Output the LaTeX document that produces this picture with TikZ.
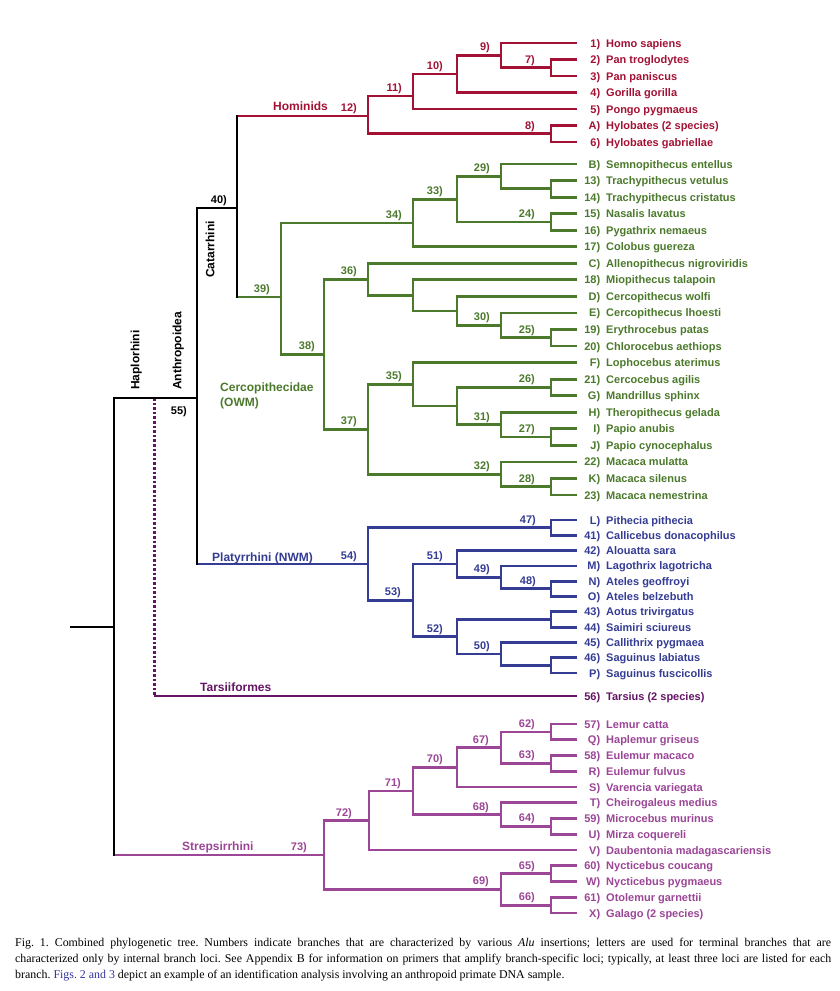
\documentclass[tikz,border=0pt]{standalone}
\usepackage{fontspec}
\setmainfont{Liberation Sans}
\newfontfamily\capfont{Liberation Serif}
\definecolor{hom}{RGB}{163,18,52}
\definecolor{owm}{RGB}{76,122,44}
\definecolor{nwm}{RGB}{52,60,148}
\definecolor{tars}{RGB}{100,20,100}
\definecolor{strep}{RGB}{155,70,150}
\definecolor{capblue}{RGB}{51,51,160}
\tikzset{
 br/.style={line width=2.8pt},
 nlab/.style={font=\fontsize{11}{13}\selectfont\bfseries, inner sep=0pt, anchor=base east},
 leaflab/.style={font=\fontsize{11}{13}\selectfont\bfseries, inner sep=0pt, anchor=base west},
 clade/.style={font=\fontsize{12}{15}\selectfont\bfseries, inner sep=0pt},
 dotbr/.style={line width=3pt, dash pattern=on 2.6pt off 2pt},
}
\newcommand\Lf[5]{%
 \coordinate (#1) at (577,#2);
 \node[leaflab,text=#5] (#1t) at ([xshift=1pt,yshift=-4pt]#1) {\makebox[22pt][r]{#3}\hspace{6pt}#4};}
\newcommand\Nl[4]{%
 \node[nlab,text=#4] (#1l) at ([xshift=-#2pt,yshift=4.5pt]#1) {#3};}
\newcommand\Br[4]{%
 \draw[br,#1] (#3) -| (#2) |- (#4);}
\begin{document}
\begin{tikzpicture}[x=1pt,y=-1pt]
\useasboundingbox (0,0) rectangle (840,991);
\fill[white] (0,0) rectangle (840,991);
% ---------------- leaves
\Lf{h1}{43}{1)}{Homo sapiens}{hom}
\Lf{h2}{59.5}{2)}{Pan troglodytes}{hom}
\Lf{h3}{76}{3)}{Pan paniscus}{hom}
\Lf{h4}{92.5}{4)}{Gorilla gorilla}{hom}
\Lf{h5}{109}{5)}{Pongo pygmaeus}{hom}
\Lf{hA}{125.5}{A)}{Hylobates (2 species)}{hom}
\Lf{h6}{142}{6)}{Hylobates gabriellae}{hom}
\Lf{oB}{164}{B)}{Semnopithecus entellus}{owm}
\Lf{o13}{180.5}{13)}{Trachypithecus vetulus}{owm}
\Lf{o14}{197.1}{14)}{Trachypithecus cristatus}{owm}
\Lf{o15}{213.6}{15)}{Nasalis lavatus}{owm}
\Lf{o16}{230.2}{16)}{Pygathrix nemaeus}{owm}
\Lf{o17}{246.7}{17)}{Colobus guereza}{owm}
\Lf{oC}{263.3}{C)}{Allenopithecus nigroviridis}{owm}
\Lf{o18}{279.8}{18)}{Miopithecus talapoin}{owm}
\Lf{oD}{296.4}{D)}{Cercopithecus wolfi}{owm}
\Lf{oE}{312.9}{E)}{Cercopithecus lhoesti}{owm}
\Lf{o19}{329.5}{19)}{Erythrocebus patas}{owm}
\Lf{o20}{346}{20)}{Chlorocebus aethiops}{owm}
\Lf{oF}{362.6}{F)}{Lophocebus aterimus}{owm}
\Lf{o21}{379.1}{21)}{Cercocebus agilis}{owm}
\Lf{oG}{395.7}{G)}{Mandrillus sphinx}{owm}
\Lf{oH}{412.2}{H)}{Theropithecus gelada}{owm}
\Lf{oI}{428.8}{I)}{Papio anubis}{owm}
\Lf{oJ}{445.3}{J)}{Papio cynocephalus}{owm}
\Lf{o22}{461.9}{22)}{Macaca mulatta}{owm}
\Lf{oK}{478.4}{K)}{Macaca silenus}{owm}
\Lf{o23}{495}{23)}{Macaca nemestrina}{owm}
\Lf{wL}{520}{L)}{Pithecia pithecia}{nwm}
\Lf{w41}{535.3}{41)}{Callicebus donacophilus}{nwm}
\Lf{w42}{550.6}{42)}{Alouatta sara}{nwm}
\Lf{wM}{565.9}{M)}{Lagothrix lagotricha}{nwm}
\Lf{wN}{581.2}{N)}{Ateles geoffroyi}{nwm}
\Lf{wO}{596.5}{O)}{Ateles belzebuth}{nwm}
\Lf{w43}{611.8}{43)}{Aotus trivirgatus}{nwm}
\Lf{w44}{627.1}{44)}{Saimiri sciureus}{nwm}
\Lf{w45}{642.4}{45)}{Callithrix pygmaea}{nwm}
\Lf{w46}{657.7}{46)}{Saguinus labiatus}{nwm}
\Lf{wP}{673}{P)}{Saguinus fuscicollis}{nwm}
\Lf{t56}{696}{56)}{Tarsius (2 species)}{tars}
\Lf{s57}{724}{57)}{Lemur catta}{strep}
\Lf{sQ}{739.75}{Q)}{Haplemur griseus}{strep}
\Lf{s58}{755.5}{58)}{Eulemur macaco}{strep}
\Lf{sR}{771.25}{R)}{Eulemur fulvus}{strep}
\Lf{sS}{787}{S)}{Varencia variegata}{strep}
\Lf{sT}{802.75}{T)}{Cheirogaleus medius}{strep}
\Lf{s59}{818.5}{59)}{Microcebus murinus}{strep}
\Lf{sU}{834.25}{U)}{Mirza coquereli}{strep}
\Lf{sV}{850}{V)}{Daubentonia madagascariensis}{strep}
\Lf{s60}{865.75}{60)}{Nycticebus coucang}{strep}
\Lf{sW}{881.5}{W)}{Nycticebus pygmaeus}{strep}
\Lf{s61}{897.25}{61)}{Otolemur garnettii}{strep}
\Lf{sX}{913}{X)}{Galago (2 species)}{strep}
% ---------------- internal nodes
\coordinate (n7) at (551,67.75);
\coordinate (n9) at (501,55.4);
\coordinate (n10) at (457,74);
\coordinate (n11) at (413,96);
\coordinate (n8) at (551,133.75);
\coordinate (n12) at (368,116);
\coordinate (a1314) at (551,188.8);
\coordinate (n29) at (501,176.4);
\coordinate (n24) at (551,221.9);
\coordinate (n33) at (457,199.2);
\coordinate (n34) at (413,223);
\coordinate (n25) at (551,337.75);
\coordinate (n30) at (501,325.3);
\coordinate (aD) at (457,310.9);
\coordinate (a18) at (413,295.3);
\coordinate (n36) at (368,279.3);
\coordinate (n26) at (551,387.4);
\coordinate (n27) at (551,437);
\coordinate (n31) at (501,424.6);
\coordinate (a2631) at (457,406);
\coordinate (n35) at (413,384.3);
\coordinate (n28) at (551,486.7);
\coordinate (n32) at (501,474.3);
\coordinate (n37) at (368,429.3);
\coordinate (n38) at (324,354.3);
\coordinate (n39) at (281,297);
\coordinate (n40) at (237,208);
\coordinate (n47) at (551,527.65);
\coordinate (n48) at (551,588.85);
\coordinate (n49) at (501,577.4);
\coordinate (n51) at (457,564);
\coordinate (b4344) at (551,619.45);
\coordinate (b46P) at (551,665.35);
\coordinate (n50) at (501,653.9);
\coordinate (n52) at (457,636.7);
\coordinate (n53) at (413,600.3);
\coordinate (n54) at (368,564);
\coordinate (n55) at (197,398);
\coordinate (tj) at (154,398);
\coordinate (n62) at (551,731.9);
\coordinate (n63) at (551,763.4);
\coordinate (n67) at (501,747.6);
\coordinate (n70) at (457,767.3);
\coordinate (n64) at (551,826.4);
\coordinate (n68) at (501,814.6);
\coordinate (n71) at (413,790.9);
\coordinate (n72) at (369,820.5);
\coordinate (n65) at (551,873.6);
\coordinate (n66) at (551,905.1);
\coordinate (n69) at (501,889.4);
\coordinate (n73) at (324,854.9);
\coordinate (nH) at (114,627);
\coordinate (root) at (70,627);
% ---------------- branches
\Br{hom}{n7}{h2}{h3}
\Br{hom}{n9}{h1}{n7}
\Br{hom}{n10}{n9}{h4}
\Br{hom}{n11}{n10}{h5}
\Br{hom}{n8}{hA}{h6}
\Br{hom}{n12}{n11}{n8}
\Br{owm}{a1314}{o13}{o14}
\Br{owm}{n29}{oB}{a1314}
\Br{owm}{n24}{o15}{o16}
\Br{owm}{n33}{n29}{n24}
\Br{owm}{n34}{n33}{o17}
\Br{owm}{n25}{o19}{o20}
\Br{owm}{n30}{oE}{n25}
\Br{owm}{aD}{oD}{n30}
\Br{owm}{a18}{o18}{aD}
\Br{owm}{n36}{oC}{a18}
\Br{owm}{n26}{o21}{oG}
\Br{owm}{n27}{oI}{oJ}
\Br{owm}{n31}{oH}{n27}
\Br{owm}{a2631}{n26}{n31}
\Br{owm}{n35}{oF}{a2631}
\Br{owm}{n28}{oK}{o23}
\Br{owm}{n32}{o22}{n28}
\Br{owm}{n37}{n35}{n32}
\Br{owm}{n38}{n36}{n37}
\Br{owm}{n39}{n34}{n38}
\Br{nwm}{n47}{wL}{w41}
\Br{nwm}{n48}{wN}{wO}
\Br{nwm}{n49}{wM}{n48}
\Br{nwm}{n51}{w42}{n49}
\Br{nwm}{b4344}{w43}{w44}
\Br{nwm}{b46P}{w46}{wP}
\Br{nwm}{n50}{w45}{b46P}
\Br{nwm}{n52}{b4344}{n50}
\Br{nwm}{n53}{n51}{n52}
\Br{nwm}{n54}{n47}{n53}
\Br{strep}{n62}{s57}{sQ}
\Br{strep}{n63}{s58}{sR}
\Br{strep}{n67}{n62}{n63}
\Br{strep}{n70}{n67}{sS}
\Br{strep}{n64}{s59}{sU}
\Br{strep}{n68}{sT}{n64}
\Br{strep}{n71}{n70}{n68}
\Br{strep}{n72}{n71}{sV}
\Br{strep}{n65}{s60}{sW}
\Br{strep}{n66}{s61}{sX}
\Br{strep}{n69}{n65}{n66}
\Br{strep}{n73}{n72}{n69}
% coloured stems from the black backbone
\draw[br,hom] (n40 |- n12) -- (n12);
\draw[br,owm] (n40 |- n39) -- (n39);
\draw[br,nwm] (n55 |- n54) -- (n54);
\draw[br,strep] (nH |- n73) -- (n73);
\draw[dotbr,tars] (tj) -- (tj |- t56);
\draw[br,tars] (tj |- t56) -- (t56);
% black backbone
\draw[br,line cap=rect] (n40 |- n12) -- (n40 |- n39);
\draw[br,line cap=rect] (n40) -| (n55) -- (n55 |- n54);
\draw[br,line cap=rect] (n55) -| (nH) -- (nH |- n73);
\draw[br] (root) -- (nH);
% ---------------- branch numbers
\Nl{n7}{16}{7)}{hom}
\Nl{n9}{11}{9)}{hom}
\Nl{n10}{14}{10)}{hom}
\Nl{n11}{11}{11)}{hom}
\Nl{n8}{16}{8)}{hom}
\Nl{n12}{11}{12)}{hom}
\Nl{n40}{10}{40)}{black}
\Nl{n29}{11}{29)}{owm}
\Nl{n24}{16}{24)}{owm}
\Nl{n33}{14}{33)}{owm}
\Nl{n34}{11}{34)}{owm}
\Nl{n25}{16}{25)}{owm}
\Nl{n30}{11}{30)}{owm}
\Nl{n36}{11}{36)}{owm}
\Nl{n26}{16}{26)}{owm}
\Nl{n27}{16}{27)}{owm}
\Nl{n31}{11}{31)}{owm}
\Nl{n35}{11}{35)}{owm}
\Nl{n28}{16}{28)}{owm}
\Nl{n32}{11}{32)}{owm}
\Nl{n37}{11}{37)}{owm}
\Nl{n38}{9}{38)}{owm}
\Nl{n39}{11}{39)}{owm}
\Nl{n47}{15}{47)}{nwm}
\Nl{n48}{15}{48)}{nwm}
\Nl{n49}{11}{49)}{nwm}
\Nl{n51}{14}{51)}{nwm}
\Nl{n50}{11}{50)}{nwm}
\Nl{n52}{14}{52)}{nwm}
\Nl{n53}{12}{53)}{nwm}
\Nl{n54}{11}{54)}{nwm}
\node[nlab] (n55l) at ([xshift=-10pt,yshift=-16pt]n55) {55)};
\Nl{n62}{16}{62)}{strep}
\Nl{n63}{16}{63)}{strep}
\Nl{n67}{12}{67)}{strep}
\Nl{n70}{14}{70)}{strep}
\Nl{n64}{16}{64)}{strep}
\Nl{n68}{12}{68)}{strep}
\Nl{n71}{12}{71)}{strep}
\Nl{n72}{17}{72)}{strep}
\Nl{n65}{16}{65)}{strep}
\Nl{n66}{16}{66)}{strep}
\Nl{n69}{12}{69)}{strep}
\Nl{n73}{17}{73)}{strep}
% ---------------- clade names
\node[clade,text=hom,anchor=base west] (lhom) at (273,110.5) {Hominids};
\node[clade,text=owm,anchor=west,align=left] (lowm) at (220,395.5) {Cercopithecidae\\(OWM)};
\node[clade,text=nwm,anchor=base west] (lnwm) at (212,561) {Platyrrhini (NWM)};
\node[clade,text=tars,anchor=base west] (ltar) at (200,691) {Tarsiiformes};
\node[clade,text=strep,anchor=base west] (lstr) at (182,850) {Strepsirrhini};
\node[clade,rotate=90,anchor=base west] (lcat) at (214.3,278) {Catarrhini};
\node[clade,rotate=90,anchor=base west] (lant) at (181.3,390) {Anthropoidea};
\node[clade,rotate=90,anchor=base west] (lhap) at (139.3,390) {Haplorhini};
% ---------------- caption
\node[anchor=north west,inner sep=0pt,text width=816pt,align=justify,
 font=\capfont\fontsize{11.9}{16}\selectfont] (cap) at (15,938)
 {\frenchspacing Fig.~1. Combined phylogenetic tree. Numbers indicate branches that are characterized by various \textit{Alu} insertions; letters are used for terminal branches that are\linebreak
 characterized only by internal branch loci. See Appendix B for information on primers that amplify branch-specific loci; typically, at least three loci are listed for each\linebreak
 branch. \textcolor{capblue}{Figs. 2 and 3} depict an example of an identification analysis involving an anthropoid primate DNA sample.};
\end{tikzpicture}
\end{document}
